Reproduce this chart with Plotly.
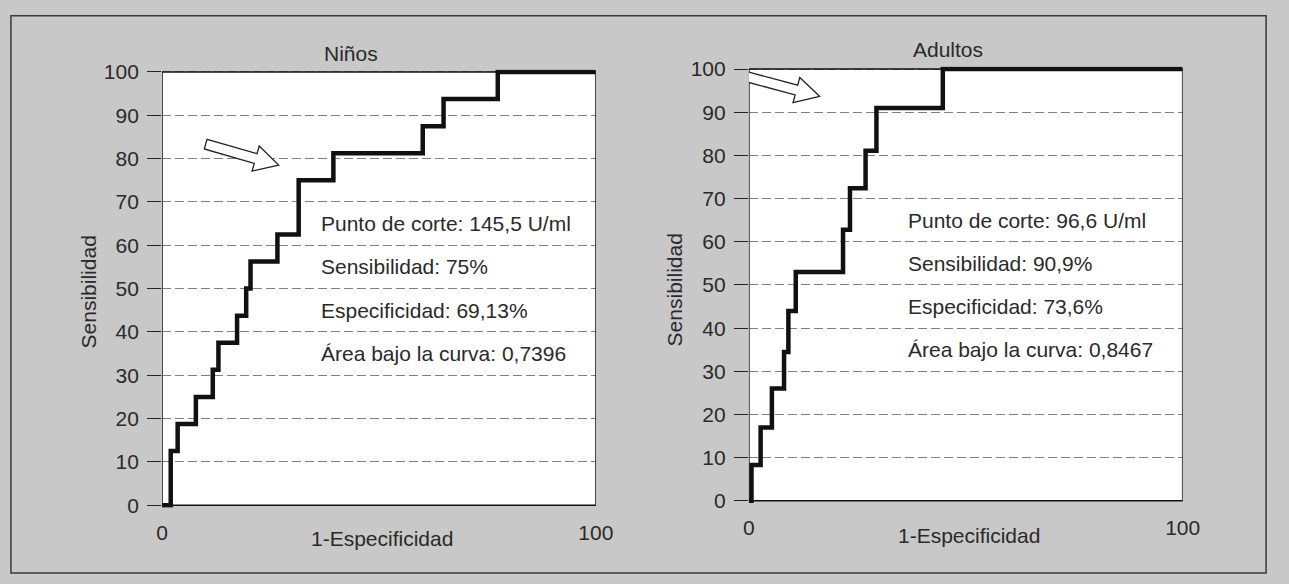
import math
import plotly.graph_objects as go

W, H = 1289, 584
BG = "#c8c8c8"
FONT = "Liberation Sans, Arial, Helvetica, sans-serif"
TXT = "#2a2a2a"

# ---------------- data ----------------
panel_titles = ["Niños", "Adultos"]

ninos_fpr = [-0.8, 2.0, 3.6, 7.8, 11.7, 13.0, 17.3, 19.4, 20.4, 26.6, 31.5, 39.5, 60.1, 64.9, 77.4, 100]
ninos_sens = [0, 12.5, 18.75, 25, 31.25, 37.5, 43.75, 50, 56.25, 62.5, 75, 81.25, 87.5, 93.75, 100, 100]

adultos_fpr = [0, 0.6, 2.7, 5.3, 8.1, 9.1, 10.8, 21.7, 23.3, 26.9, 29.4, 44.7, 100]
adultos_sens = [0, 8.3, 17, 26, 34.5, 44, 53, 62.8, 72.4, 81.1, 91, 100, 100]

ninos_stats = ["Punto de corte: 145,5 U/ml", "Sensibilidad: 75%",
               "Especificidad: 69,13%", "Área bajo la curva: 0,7396"]
adultos_stats = ["Punto de corte: 96,6 U/ml", "Sensibilidad: 90,9%",
                 "Especificidad: 73,6%", "Área bajo la curva: 0,8467"]
stats_y = [65, 55, 45, 35]

ytick_vals = [0, 10, 20, 30, 40, 50, 60, 70, 80, 90, 100]
xtick_vals = [0, 100]
xtick_text = ["0", "100"]

x_title = "1-Especificidad"
y_title = "Sensibilidad"

# arrow tips (data coords) and directions (degrees below horizontal)
arrow_tips = [(26.9, 78.5), (16.3, 93.7)]
arrow_angles = [16, 15]

# ---------------- layout geometry (pixels) ----------------
frames = [dict(left=159, right=601, top=65, bottom=512),
          dict(left=757, right=1199, top=62, bottom=507.5)]
YPAD = 0.6
title_px = [(352, 46), (960, 42)]
ytitle_px = [(84, 292), (681, 290)]
xtitle_px = [(383, 546), (981, 543)]


def px2paper(x, y):
    return x / W, 1 - y / H


fig = go.Figure()

series = [(ninos_fpr, ninos_sens, ninos_stats), (adultos_fpr, adultos_sens, adultos_stats)]

shapes = []
annotations = []

for i, (fx, sy, stats) in enumerate(series):
    n = "" if i == 0 else str(i + 1)
    xr, yr = "x" + n, "y" + n
    fr = frames[i]
    scale = (fr["bottom"] - fr["top"]) / 100.0
    top_px = fr["top"] - YPAD * scale
    bot_px = fr["bottom"] + YPAD * scale

    fig.add_trace(go.Scatter(
        x=fx, y=sy, mode="lines", line=dict(color="#111111", width=4.5, shape="hv"),
        xaxis=xr, yaxis=yr, showlegend=False, hoverinfo="skip"))

    axis_font = dict(family=FONT, size=21, color=TXT)
    fig.update_layout(**{
        ("xaxis" + n): dict(
            domain=[fr["left"] / W, fr["right"] / W], range=[0, 100], anchor=yr,
            tickvals=xtick_vals, ticktext=xtick_text, ticks="", showgrid=False,
            zeroline=False, showline=False, tickfont=axis_font, ticklabelstandoff=10,
            fixedrange=True),
        ("yaxis" + n): dict(
            domain=[1 - bot_px / H, 1 - top_px / H], range=[-YPAD, 100 + YPAD], anchor=xr,
            tickvals=ytick_vals, ticks="outside", ticklen=14, tickwidth=1.4,
            tickcolor="#222222", showgrid=True, gridcolor="#808080", griddash="9px,4px",
            gridwidth=1, zeroline=False, showline=False, tickfont=axis_font,
            ticklabelstandoff=4, fixedrange=True),
    })

    # white plotting field and black frame
    shapes.append(dict(type="rect", xref=xr, yref=yr, x0=0, x1=100, y0=0, y1=100,
                       fillcolor="white", line=dict(width=0), layer="below"))
    shapes.append(dict(type="rect", xref=xr, yref=yr, x0=0, x1=100, y0=0, y1=100,
                       fillcolor="rgba(0,0,0,0)", line=dict(color="#111111", width=1.5),
                       layer="above"))

    # hollow block arrow
    th = math.radians(arrow_angles[i])
    local = [(0, 0), (-24, -13), (-24, -5), (-76, -5), (-76, 5), (-24, 5), (-24, 13)]
    pts = []
    for (lx, ly) in local:
        rx = lx * math.cos(th) - ly * math.sin(th)
        ry = lx * math.sin(th) + ly * math.cos(th)
        pts.append((rx, -ry))
    path = "M " + " L ".join(f"{px:.2f},{py:.2f}" for px, py in pts) + " Z"
    tx, ty = arrow_tips[i]
    shapes.append(dict(type="path", xref=xr, yref=yr, xsizemode="pixel", ysizemode="pixel",
                       xanchor=tx, yanchor=ty, path=path, fillcolor="white",
                       line=dict(color="#222222", width=1.3), layer="above"))

    # statistics text
    for s, yv in zip(stats, stats_y):
        annotations.append(dict(x=36.2, y=yv, xref=xr, yref=yr, text=s, showarrow=False,
                                xanchor="left", yanchor="middle",
                                font=dict(family=FONT, size=21, color=TXT)))

    # panel title
    px_, py_ = px2paper(*title_px[i])
    annotations.append(dict(x=px_, y=py_, xref="paper", yref="paper", text=panel_titles[i],
                            showarrow=False, xanchor="center", yanchor="middle",
                            font=dict(family=FONT, size=21, color=TXT)))
    # axis titles
    px_, py_ = px2paper(*ytitle_px[i])
    annotations.append(dict(x=px_, y=py_, xref="paper", yref="paper", text=y_title,
                            showarrow=False, textangle=-90, xanchor="center", yanchor="middle",
                            font=dict(family=FONT, size=21, color=TXT)))
    px_, py_ = px2paper(*xtitle_px[i])
    annotations.append(dict(x=px_, y=py_, xref="paper", yref="paper", text=x_title,
                            showarrow=False, xanchor="center", yanchor="middle",
                            font=dict(family=FONT, size=21, color=TXT)))

# outer frame of the figure
x0p, y1p = px2paper(5, 7)
x1p, y0p = px2paper(1284, 582)
shapes.append(dict(type="rect", xref="paper", yref="paper", x0=x0p, x1=x1p, y0=y0p, y1=y1p,
                   fillcolor="rgba(0,0,0,0)", line=dict(color="#3a3a3a", width=1.5),
                   layer="above"))

fig.update_layout(
    width=W, height=H, margin=dict(l=0, r=0, t=0, b=0),
    paper_bgcolor=BG, plot_bgcolor=BG, showlegend=False,
    shapes=shapes, annotations=annotations,
    font=dict(family=FONT, color=TXT),
)

fig.write_html("out.html", config={"displayModeBar": False})
